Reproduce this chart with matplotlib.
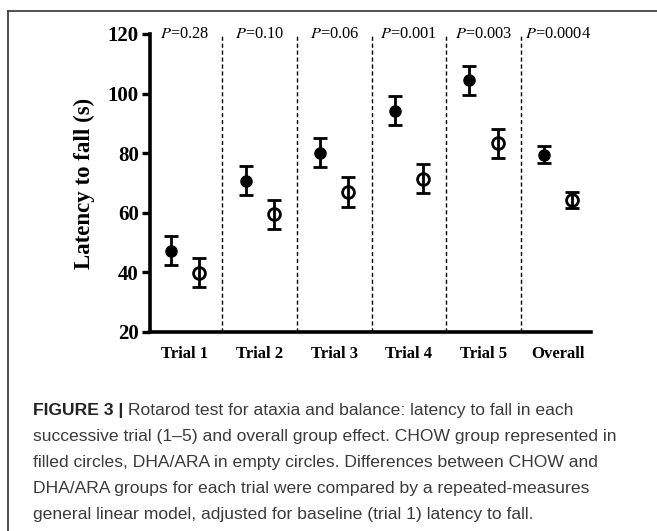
import matplotlib
matplotlib.use("Agg")
import matplotlib.pyplot as plt
from matplotlib.lines import Line2D

# data (mean and error half-width, seconds)
trials = ["Trial 1", "Trial 2", "Trial 3", "Trial 4", "Trial 5", "Overall"]
p_values = ["0.28", "0.10", "0.06", "0.001", "0.003", "0.0004"]
chow_mean = [47.3, 70.8, 80.2, 94.3, 104.4, 79.5]
chow_err = [4.9, 4.9, 5.0, 4.9, 4.9, 2.8]
dha_mean = [39.9, 59.5, 67.0, 71.5, 83.3, 64.2]
dha_err = [4.8, 4.8, 5.0, 4.9, 4.9, 2.7]

caption_bold = "FIGURE 3 | "
caption_lines = [
    "Rotarod test for ataxia and balance: latency to fall in each",
    "successive trial (1\u20135) and overall group effect. CHOW group represented in",
    "filled circles, DHA/ARA in empty circles. Differences between CHOW and",
    "DHA/ARA groups for each trial were compared by a repeated-measures",
    "general linear model, adjusted for baseline (trial 1) latency to fall.",
]

serif = "Liberation Serif"
sans = "Liberation Sans"

fig = plt.figure(figsize=(6.57, 5.31), dpi=100)
ax = fig.add_axes([0.2283, 0.3748, 0.8995 - 0.2283, 0.936 - 0.3748])

x = list(range(len(trials)))
off = 0.19
xc = [i - off for i in x]
xd = [i + off for i in x]

ax.errorbar(xc, chow_mean, yerr=chow_err, fmt="o", color="black",
            mfc="black", mec="black", ms=8, elinewidth=2, capsize=5,
            capthick=2, zorder=3)
ax.errorbar(xd, dha_mean, yerr=dha_err, fmt="o", color="black",
            mfc="none", mec="black", ms=8.5, mew=2, elinewidth=2, capsize=5,
            capthick=2, zorder=3)

# dashed separators between trials
for i in range(len(trials) - 1):
    ax.plot([i + 0.5, i + 0.5], [20, 119.3], color="black", lw=1,
            linestyle=(0, (3, 2)), zorder=1)

# p values over each group
for i, p in enumerate(p_values):
    ax.text(i, 120, r"$\mathit{P}$" + "=" + p, ha="center", va="center",
            fontsize=11.8, family=serif, math_fontfamily="stix")

ax.set_xlim(-0.47, 5.44)
ax.set_ylim(20, 120)
ax.set_yticks([20, 40, 60, 80, 100, 120])
ax.set_xticks(x)
ax.set_xticklabels(trials, fontsize=12, fontweight="bold", family=serif)
for lab in ax.get_yticklabels():
    lab.set_fontsize(15)
    lab.set_fontweight("bold")
    lab.set_family(serif)

ax.tick_params(axis="x", length=0, pad=10)
ax.tick_params(axis="y", length=6, width=2.4, pad=2)
ax.spines["top"].set_visible(False)
ax.spines["right"].set_visible(False)
ax.spines["left"].set_linewidth(2.6)
ax.spines["bottom"].set_linewidth(2.6)
ax.set_ylabel("Latency to fall (s)", fontsize=16.5, fontweight="bold",
              family=serif, labelpad=9)

# caption
fs = 12.6
y0 = 1 - 411 / 531
dy = 26 / 531
t = fig.text(33 / 657, y0, caption_bold, fontsize=fs, fontweight="bold",
             family=sans, color="#222222", va="center")
fig.canvas.draw()
bb = t.get_window_extent()
fig.text(bb.x1 / 657, y0, caption_lines[0], fontsize=fs, family=sans,
         color="#3a3a3a", va="center")
for k, line in enumerate(caption_lines[1:], start=1):
    fig.text(33 / 657, y0 - k * dy, line, fontsize=fs, family=sans,
             color="#3a3a3a", va="center")

# frame around figure (open on right and bottom)
fig.add_artist(Line2D([8 / 657, 8 / 657], [0, 1 - 10.5 / 531],
                      transform=fig.transFigure, color="#333333", lw=1.2))
fig.add_artist(Line2D([8 / 657, 1], [1 - 10.5 / 531, 1 - 10.5 / 531],
                      transform=fig.transFigure, color="#333333", lw=1.2))

fig.savefig("out.png", dpi=100)
